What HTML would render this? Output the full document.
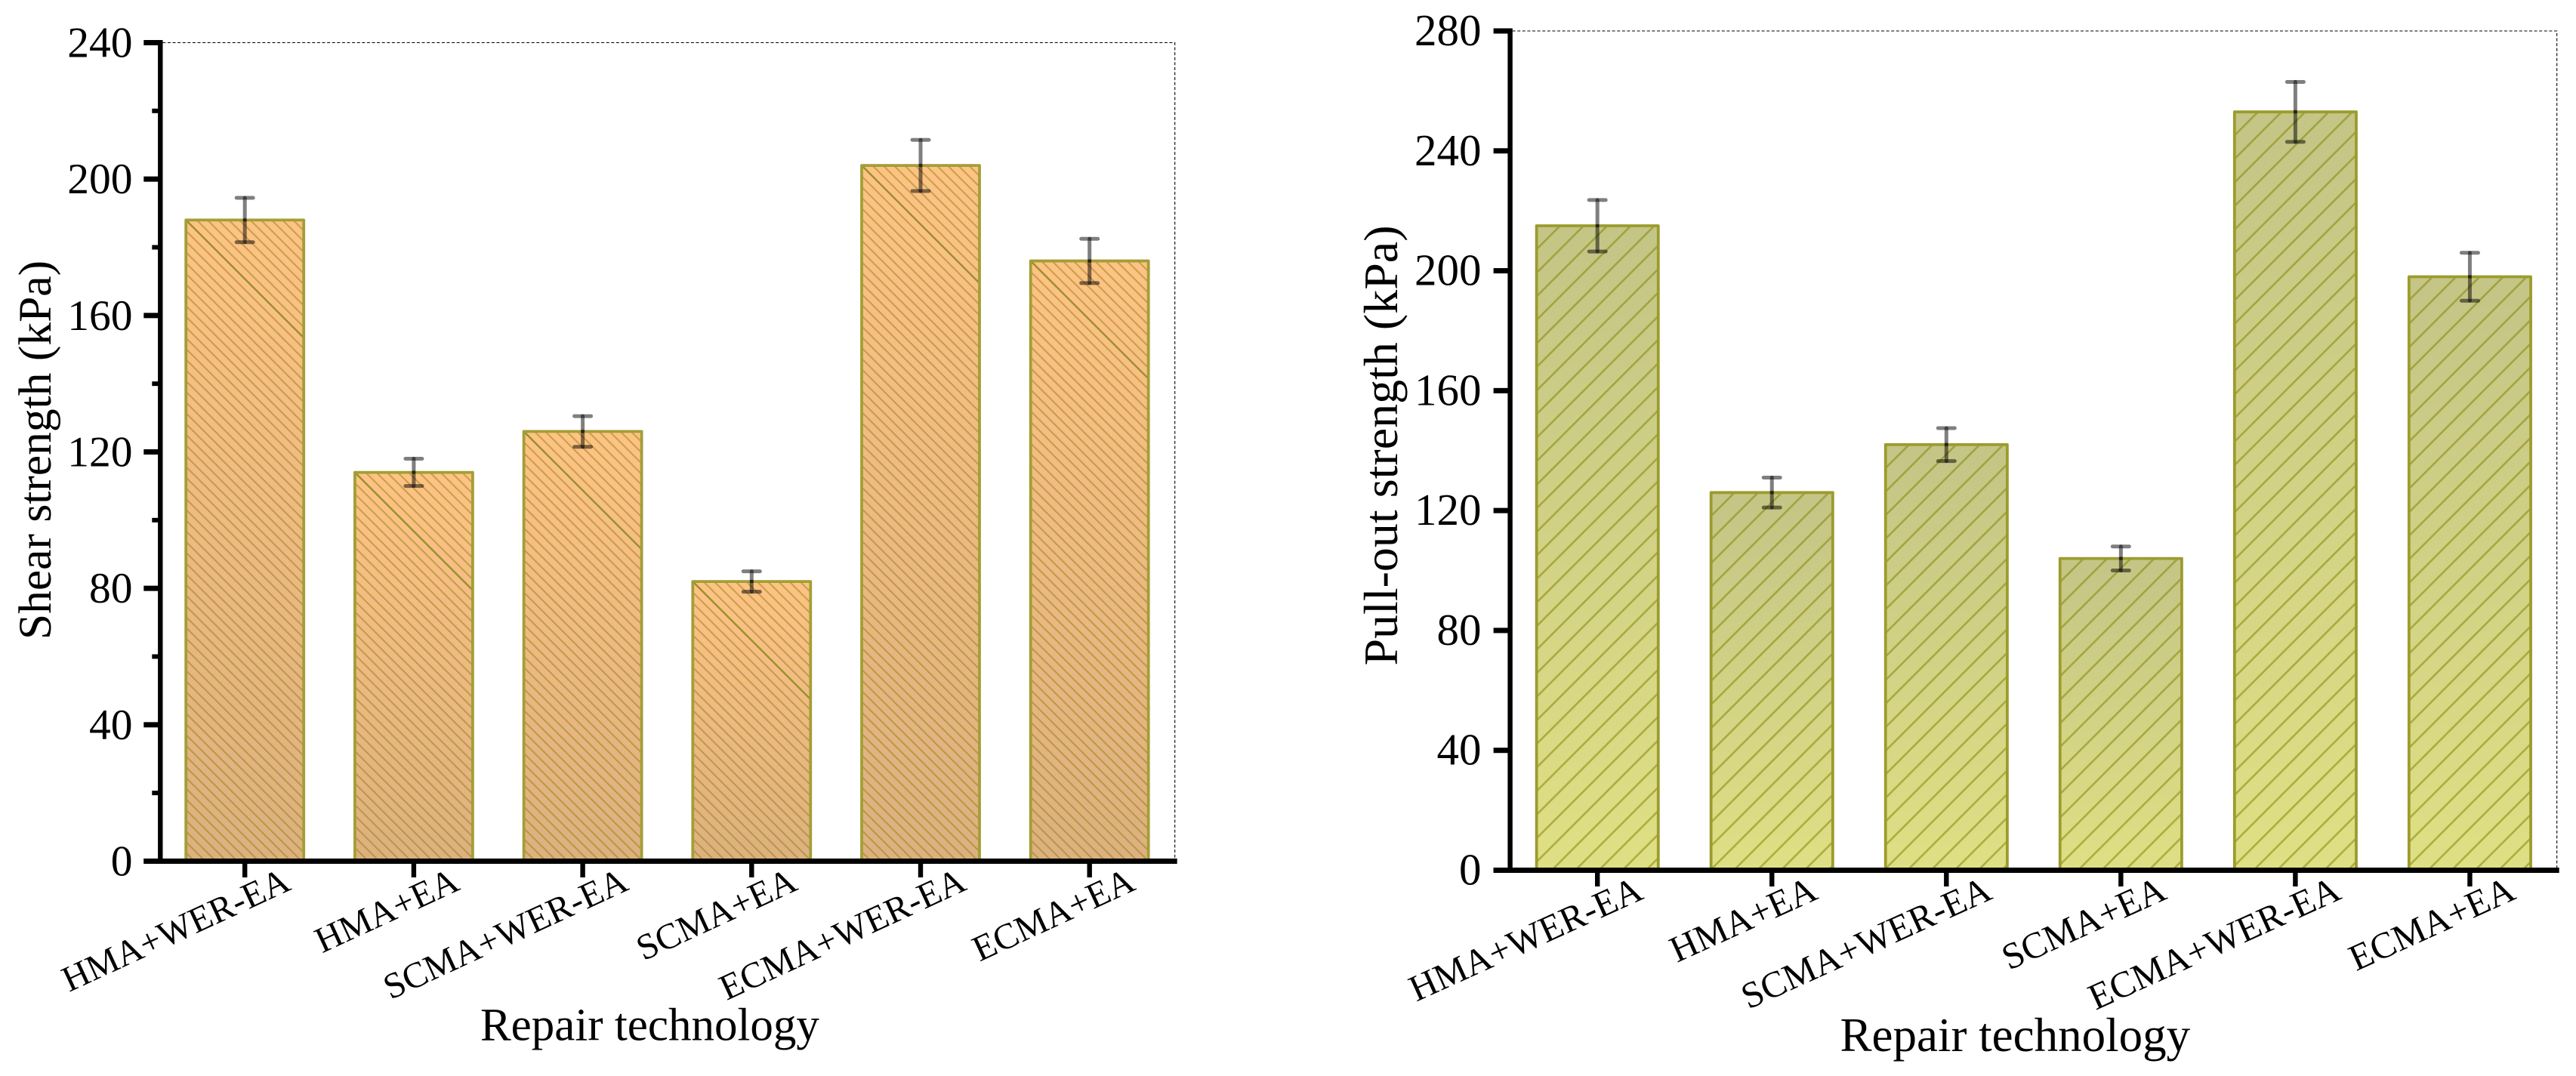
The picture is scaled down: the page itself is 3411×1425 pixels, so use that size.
<!DOCTYPE html>
<html lang="en">
<head>
<meta charset="utf-8">
<title>Shear and pull-out strength by repair technology</title>
<style>
html,body{margin:0;padding:0;background:#fff;width:3411px;height:1425px;overflow:hidden}
svg{display:block}
text{font-family:"Liberation Serif","Times New Roman",serif;fill:#000}
</style>
</head>
<body>
<svg id="figure" xmlns="http://www.w3.org/2000/svg" width="3411" height="1425" viewBox="0 0 3411 1425">
  <defs>
    <linearGradient id="orange-gradient" x1="0" y1="0" x2="0" y2="1">
      <stop offset="0" stop-color="#FFC285"/>
      <stop offset="1" stop-color="#DEB080"/>
    </linearGradient>
    <linearGradient id="olive-gradient" x1="0" y1="0" x2="0" y2="1">
      <stop offset="0" stop-color="#C4C586"/>
      <stop offset="1" stop-color="#DFDF84"/>
    </linearGradient>
  </defs>
</svg>
<script>
const categories = ["HMA+WER-EA", "HMA+EA", "SCMA+WER-EA", "SCMA+EA", "ECMA+WER-EA", "ECMA+EA"];
const shearValues = [188, 114, 126, 82, 204, 176];
const shearErrors = [6.5, 4, 4.5, 3, 7.5, 6.5];
const shearTicks = [0, 40, 80, 120, 160, 200, 240];
const shearMinorTicks = [20, 60, 100, 140, 180, 220];
const pulloutValues = [215, 126, 142, 104, 253, 198];
const pulloutErrors = [8.6, 5, 5.5, 4, 10, 8];
const pulloutTicks = [0, 40, 80, 120, 160, 200, 240, 280];
const pulloutMinorTicks = [];

const svg = document.getElementById('figure');
const NS = 'http://www.w3.org/2000/svg';

function make(parent, tag, attrs, text) {
  const node = document.createElementNS(NS, tag);
  for (const key in attrs) node.setAttribute(key, attrs[key]);
  if (text !== undefined) node.textContent = text;
  parent.appendChild(node);
  return node;
}

function drawChart(c) {
  const yScale = v => c.y0 - (v / c.yMax) * (c.y0 - c.yTop);
  const xScale = i => c.x0 + i * c.xStep;

  const group = make(svg, 'g', {});
  
  

  // dashed plot frame
  const frame = make(group, 'path', {
    d: `M${c.axisX + 3} ${c.yTop}H${c.frameRight}V${c.y0 - 3}`,
    fill: 'none', stroke: '#000', 'stroke-width': 1.1, 'stroke-dasharray': '4 2.6'
  });
  
  

  // bars
  c.values.forEach((value, i) => {
    const cx = xScale(i);
    const left = cx - c.barWidth / 2;
    const top = yScale(value);
    const height = c.y0 - top;

    const bar = make(group, 'rect', {
      x: left, y: top, width: c.barWidth, height: height,
      fill: `url(#${c.gradient})`
    });
    
    

    const patternId = `${c.id}-hatch-${i}`;
    const p = c.hatchPeriod;
    const pattern = make(svg.querySelector('defs'), 'pattern', {
      id: patternId, patternUnits: 'userSpaceOnUse', width: p, height: p,
      patternTransform: `translate(${left} ${top})`
    });
    const tile = c.hatchDown
      ? `M-3 -3L${p + 3} ${p + 3}M-3 ${p - 3}L3 ${p + 3}M${p - 3} -3L${p + 3} 3`
      : `M-3 ${p + 3}L${p + 3} -3M-3 3L3 -3M${p - 3} ${p + 3}L${p + 3} ${p - 3}`;
    make(pattern, 'path', { d: tile, fill: 'none', stroke: c.hatchColor, 'stroke-width': c.hatchWidth });

    const hatch = make(group, 'rect', {
      x: left, y: top, width: c.barWidth, height: height, fill: `url(#${patternId})`
    });
    
    

    if (c.accentDiagonal) {
      const run = Math.min(c.barWidth, height);
      const accent = make(group, 'line', {
        x1: left, y1: top, x2: left + run, y2: top + run,
        stroke: '#97922A', 'stroke-width': 2.4
      });
      
      
    }

    const outline = make(group, 'path', {
      d: `M${left} ${c.y0}V${top}H${left + c.barWidth}V${c.y0}`,
      fill: 'none', stroke: c.barStroke, 'stroke-width': 3.8, 'stroke-linejoin': 'round'
    });
    
    

    // error bar
    const hi = yScale(value + c.errors[i]);
    const lo = yScale(value - c.errors[i]);
    const errorGroup = make(group, 'g', {
      stroke: 'rgba(0,0,0,0.5)', 'stroke-width': 5, 'stroke-linecap': 'round'
    });
    
    
    make(errorGroup, 'line', { x1: cx, x2: cx, y1: hi, y2: top });
    make(errorGroup, 'line', { x1: cx, x2: cx, y1: top, y2: lo });
    make(errorGroup, 'line', { x1: cx - 11, x2: cx + 11, y1: hi, y2: hi });
    make(errorGroup, 'line', { x1: cx - 11, x2: cx + 11, y1: lo, y2: lo });
  });

  // y axis
  const yAxis = make(group, 'rect', {
    x: c.axisX - 3.2, y: c.yTop - 3.5, width: 6.4, height: c.y0 - c.yTop + 7, fill: '#000'
  });
  
  

  c.ticks.forEach(t => {
    const y = yScale(t);
    const tick = make(group, 'rect', {
      x: c.axisX - 22, y: y - 3.5, width: 22, height: 7, fill: '#000'
    });
    
    
    const label = make(group, 'text', {
      x: c.tickLabelRight, y: y + 19, 'text-anchor': 'end', 'font-size': c.tickFont
    }, String(t));
    
    
  });

  c.minorTicks.forEach(t => {
    const tick = make(group, 'rect', {
      x: c.axisX - 11, y: yScale(t) - 3, width: 11, height: 6, fill: '#000'
    });
    
    
  });

  // x axis
  const xAxis = make(group, 'rect', {
    x: c.axisX - 22, y: c.y0 - 3.5, width: c.frameRight + 3 - (c.axisX - 22), height: 7, fill: '#000'
  });
  
  

  categories.forEach((name, i) => {
    const cx = xScale(i);
    const tick = make(group, 'rect', {
      x: cx - 3.2, y: c.y0 + 3.5, width: 6.4, height: 18, fill: '#000'
    });
    
    
    const lx = cx + 63;
    const ly = c.y0 + 37;
    const label = make(group, 'text', {
      x: lx, y: ly, 'text-anchor': 'end', 'font-size': c.catFont,
      transform: `rotate(${-c.catAngle} ${lx} ${ly})`
    }, name);
    
    
  });

  const xTitle = make(group, 'text', {
    x: c.xTitleX, y: c.xTitleY, 'font-size': c.xTitleFont
  }, 'Repair technology');
  
  

  const yTitle = make(group, 'text', {
    x: c.yTitleX, y: c.yTitleY, 'text-anchor': 'middle', 'font-size': c.yTitleFont,
    transform: `rotate(-90 ${c.yTitleX} ${c.yTitleY})`
  }, c.yTitle);
  
  
}

drawChart({
  id: 'shear', yTitle: 'Shear strength (kPa)',
  values: shearValues, errors: shearErrors, ticks: shearTicks, minorTicks: shearMinorTicks,
  yMax: 240, y0: 1140.5, yTop: 56.5, axisX: 212.3, frameRight: 1555.7,
  x0: 324.2, xStep: 223.7, barWidth: 156,
  gradient: 'orange-gradient', barStroke: '#A39E37',
  hatchPeriod: 14.2, hatchDown: true, hatchColor: 'rgba(128,128,0,0.48)', hatchWidth: 2, accentDiagonal: true,
  tickFont: 57.5, tickLabelRight: 175.5,
  catFont: 48, catAngle: 24.8,
  xTitleX: 636, xTitleY: 1377.5, xTitleFont: 61,
  yTitleX: 67, yTitleY: 596, yTitleFont: 61.5
});

drawChart({
  id: 'pullout', yTitle: 'Pull-out strength (kPa)',
  values: pulloutValues, errors: pulloutErrors, ticks: pulloutTicks, minorTicks: pulloutMinorTicks,
  yMax: 280, y0: 1152.5, yTop: 41, axisX: 1999.6, frameRight: 3385.7,
  x0: 2115.2, xStep: 231.05, barWidth: 161.2,
  gradient: 'olive-gradient', barStroke: '#9C9C2E',
  hatchPeriod: 31.2, hatchDown: false, hatchColor: 'rgba(128,128,0,0.52)', hatchWidth: 2.6, accentDiagonal: false,
  tickFont: 59, tickLabelRight: 1961.5,
  catFont: 49, catAngle: 24.4,
  xTitleX: 2436.5, xTitleY: 1392, xTitleFont: 63,
  yTitleX: 1850, yTitleY: 590, yTitleFont: 64
});
</script>
</body>
</html>
